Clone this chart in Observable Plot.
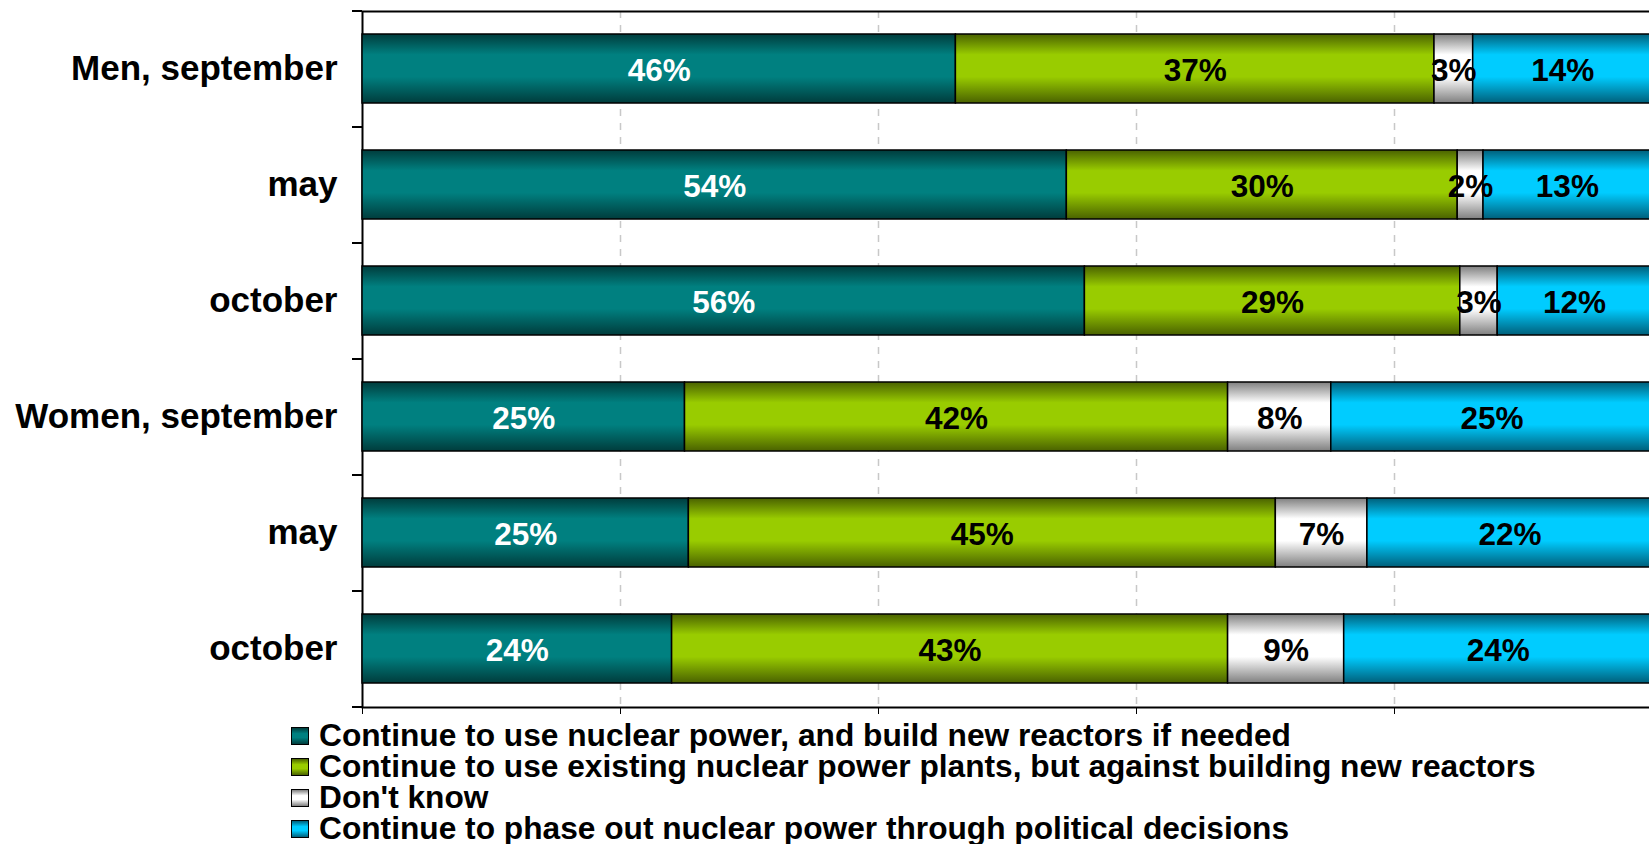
<!DOCTYPE html>
<html>
<head>
<meta charset="utf-8">
<script src="https://cdn.jsdelivr.net/npm/d3@7"></script>
<script src="https://cdn.jsdelivr.net/npm/@observablehq/plot@0.6"></script>
<style>
  body { margin: 0; background: #fff; font-family: "Liberation Sans", Arial, sans-serif; }
  #chart svg { display: block; }
  #legend { font-weight: bold; font-size: 31.7px; line-height: 31px; color: #000; white-space: nowrap; margin-top: -1.9px; }
  #legend .row { height: 31px; line-height: 31px; }
  #legend .txt { display: inline-block; height: 31px; line-height: 31px; vertical-align: baseline; }
  #legend .sw { display: inline-block; width: 16px; height: 16px; border: 1.5px solid #000;
                margin-left: 291px; margin-right: 10px; margin-bottom: 1px; }
</style>
</head>
<body>
<div id="chart"></div>
<div id="legend"></div>
<script>
// ---- data ----
const rowIds = ["men-sep", "men-may", "men-oct", "women-sep", "women-may", "women-oct"];
const rowLabels = ["Men, september", "may", "october", "Women, september", "may", "october"];
const seriesNames = [
  "Continue to use nuclear power, and build new reactors if needed",
  "Continue to use existing nuclear power plants, but against building new reactors",
  "Don't know",
  "Continue to phase out nuclear power through political decisions"
];
const buildNew    = [46.0, 54.6, 56.0, 25.0, 25.3, 24.0];
const useExisting = [37.1, 30.3, 29.1, 42.1, 45.5, 43.1];
const dontKnow    = [3.0, 2.0, 2.9, 8.0, 7.1, 9.0];
const phaseOut    = [13.9, 13.0, 11.9, 24.9, 22.1, 23.9];
const buildNewLabels    = ["46%", "54%", "56%", "25%", "25%", "24%"];
const useExistingLabels = ["37%", "30%", "29%", "42%", "45%", "43%"];
const dontKnowLabels    = ["3%", "2%", "3%", "8%", "7%", "9%"];
const phaseOutLabels    = ["14%", "13%", "12%", "25%", "22%", "24%"];
const xTicks = [0, 20, 40, 60, 80, 100];

// gradient colours (edge, centre) per series
const seriesEdge   = ["#003c3c", "#4a6200", "#7f7f7f", "#005f7a"];
const seriesCentre = ["#008080", "#99cc00", "#ffffff", "#00ccff"];

const seriesValues = [buildNew, useExisting, dontKnow, phaseOut];
const seriesLabels = [buildNewLabels, useExistingLabels, dontKnowLabels, phaseOutLabels];
const data = [];
seriesNames.forEach((s, k) => rowIds.forEach((r, i) =>
  data.push({row: r, series: s, value: seriesValues[k][i], label: seriesLabels[k][i]})));

// ---- layout ----
const W = 1649, H = 722, mL = 362, mT = 11, mB = 15;
const step = (H - mT - mB) / rowIds.length;
const font = '"Liberation Sans", Arial, sans-serif';

const textOpts = {x: "value", y: "row", z: "series", text: "label", fontSize: 31.5, fontWeight: "bold", fontFamily: font, dy: 2};

const chart = Plot.plot({
  width: W, height: H,
  marginLeft: mL, marginTop: mT, marginBottom: mB, marginRight: -3,
  style: {fontFamily: font, fontWeight: "bold", fontSize: "35px", color: "#000", background: "#fff", overflow: "visible"},
  x: {domain: [0, 100], ticks: xTicks, tickSize: 7, tickFormat: () => "", label: null},
  y: {domain: rowIds, paddingInner: 0.405, paddingOuter: 0.2025, tickSize: 0, tickPadding: 25,
      tickFormat: d => rowLabels[rowIds.indexOf(d)], label: null},
  color: {type: "ordinal", domain: seriesNames, range: seriesNames.map((_, k) => `url(#grad${k})`)},
  marks: [
    Plot.ruleX(xTicks.slice(1, -1), {stroke: "#c8c8c8", strokeWidth: 1.5, strokeDasharray: "7,7"}),
    Plot.frame({stroke: "#000", strokeWidth: 2}),
    Plot.barX(data, Plot.stackX({x: "value", y: "row", fill: "series", stroke: "#000", strokeWidth: 1.5})),
    Plot.text(data, Plot.filter(d => d.series === seriesNames[0], Plot.stackX({...textOpts, fill: "#fff"}))),
    Plot.text(data, Plot.filter(d => d.series !== seriesNames[0], Plot.stackX({...textOpts, fill: "#000"}))),
    Plot.ruleY(rowIds, {y: d => d, x1: 0, x2: 0, insetLeft: -10, dy: -step / 2, stroke: "#000", strokeWidth: 2}),
    Plot.ruleY(rowIds.slice(-1), {y: d => d, x1: 0, x2: 0, insetLeft: -10, dy: step / 2, stroke: "#000", strokeWidth: 2})
  ]
});

// gradient definitions
const defs = d3.select(chart).insert("defs", ":first-child");
seriesNames.forEach((_, k) => {
  const g = defs.append("linearGradient").attr("id", `grad${k}`)
    .attr("x1", 0).attr("y1", 0).attr("x2", 0).attr("y2", 1);
  [[0, seriesEdge[k]], [0.3, seriesCentre[k]], [0.62, seriesCentre[k]], [1, seriesEdge[k]]]
    .forEach(([o, c]) => g.append("stop").attr("offset", o).attr("stop-color", c));
});
document.getElementById("chart").append(chart);

// legend
const legend = d3.select("#legend");
seriesNames.forEach((s, k) => {
  const row = legend.append("div").attr("class", "row");
  row.append("span").attr("class", "sw")
    .style("background", `linear-gradient(to bottom, ${seriesEdge[k]} 0%, ${seriesCentre[k]} 35%, ${seriesCentre[k]} 60%, ${seriesEdge[k]} 100%)`);
  row.append("span").attr("class", "txt").text(s);
});
</script>
</body>
</html>
